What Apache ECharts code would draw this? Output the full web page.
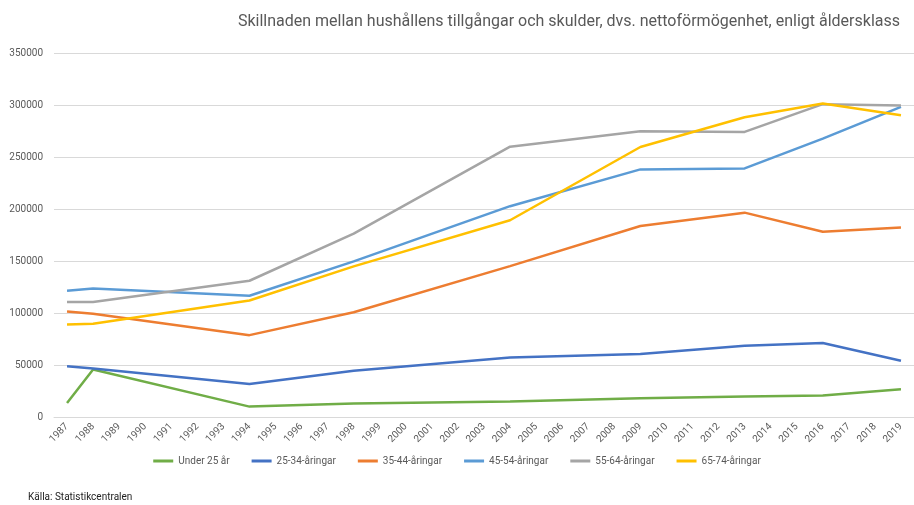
<!DOCTYPE html>
<html><head><meta charset="utf-8">
<script src="https://cdn.jsdelivr.net/npm/echarts@6/dist/echarts.min.js"></script>
<style>html,body{margin:0;padding:0;background:#fff}#c{width:914px;height:505px}</style>
</head><body><div id="c"></div>
<script>
const years = [];
for (let y = 1987; y <= 2019; y++) years.push(String(y));
const dataYears = ['1987','1988','1994','1998','2004','2009','2013','2016','2019'];
const under25 = [13500, 45600, 10000, 13000, 14800, 18000, 19600, 20600, 26700];
const age25_34 = [48800, 46600, 31800, 44400, 57300, 60500, 68500, 71100, 54000];
const age35_44 = [101500, 99200, 78700, 100700, 145100, 183700, 196500, 178200, 182100];
const age45_54 = [121400, 123600, 116600, 149600, 202700, 238100, 239000, 267600, 298200];
const age55_64 = [110500, 110500, 131000, 176300, 259900, 274700, 274100, 300800, 299500];
const age65_74 = [89000, 89600, 112000, 144800, 189200, 259600, 288200, 301400, 290200];
const seriesNames = ['Under 25 år','25-34-åringar','35-44-åringar','45-54-åringar','55-64-åringar','65-74-åringar'];
const seriesValues = [under25, age25_34, age35_44, age45_54, age55_64, age65_74];
const colors = ['#70AD47','#4472C4','#ED7D31','#5B9BD5','#A5A5A5','#FFC000'];
const yTicks = [0, 50000, 100000, 150000, 200000, 250000, 300000, 350000];

function expand(vals) {
  return years.map(y => { const i = dataYears.indexOf(y); return i >= 0 ? vals[i] : null; });
}
const FONT = 'Roboto, "Open Sans", sans-serif';
const chart = echarts.init(document.getElementById('c'));
chart.setOption({
  animation: false,
  color: colors,
  textStyle: { fontFamily: FONT },
  title: {
    text: 'Skillnaden mellan hushållens tillgångar och skulder, dvs. nettoförmögenhet, enligt åldersklass',
    right: 9, top: 9,
    textStyle: { fontFamily: FONT, fontSize: 16, fontWeight: 'normal', color: '#595959' }
  },
  graphic: [{
    type: 'text', left: 28, top: 492,
    style: { text: 'Källa: Statistikcentralen', fontFamily: FONT, fontSize: 10, fill: '#222' }
  }],
  legend: {
    bottom: 34, left: 'center',
    itemWidth: 20, itemHeight: 3, itemGap: 22,
    icon: 'rect',
    textStyle: { fontFamily: FONT, fontSize: 10, color: '#595959' },
    data: seriesNames
  },
  grid: { left: 54, right: -3, top: 53, bottom: 88, containLabel: false },
  xAxis: {
    type: 'category', data: years, boundaryGap: true,
    axisLine: { show: true, lineStyle: { color: '#D9D9D9' } },
    axisTick: { show: false },
    axisLabel: { interval: 0, rotate: 45, fontFamily: FONT, fontSize: 10, color: '#595959', margin: 8 }
  },
  yAxis: {
    type: 'value', min: yTicks[0], max: yTicks[yTicks.length - 1], interval: 50000,
    axisLine: { show: false }, axisTick: { show: false },
    splitLine: { lineStyle: { color: '#D9D9D9' } },
    axisLabel: { fontFamily: FONT, fontSize: 10, color: '#595959', margin: 11, formatter: v => String(v) }
  },
  series: seriesNames.map((n, i) => ({
    name: n, type: 'line', data: expand(seriesValues[i]), connectNulls: true,
    showSymbol: false, symbol: 'none', lineStyle: { width: 2.5, color: colors[i] }
  }))
});
</script></body></html>
